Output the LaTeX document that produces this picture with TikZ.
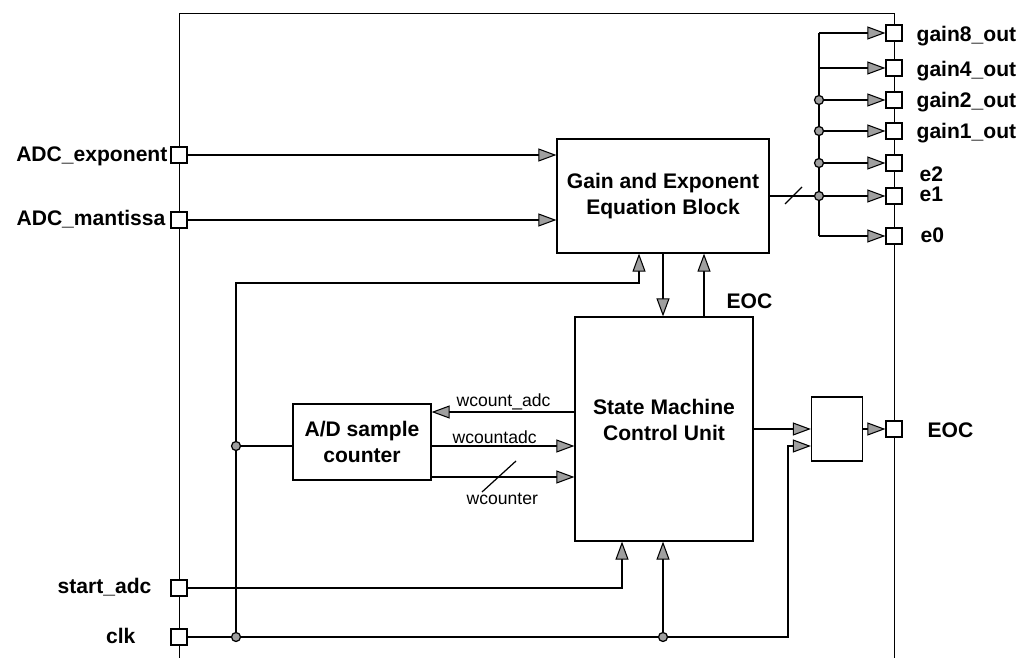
\documentclass[tikz,border=0pt]{standalone}
\usepackage{fontspec}
\setmainfont{Liberation Sans}
\usetikzlibrary{arrows.meta,backgrounds}
\tikzset{
  port/.style={draw, fill=white, minimum width=0.32cm, minimum height=0.32cm, inner sep=0pt},
  block/.style={draw, fill=white, inner sep=0pt, align=center, font=\fontsize{12}{15}\selectfont\bfseries},
  blocktext/.style={align=center, inner sep=0pt, font=\fontsize{12}{15}\selectfont\bfseries},
  lbl/.style={font=\fontsize{12}{14}\selectfont\bfseries, inner sep=0pt},
  sig/.style={font=\fontsize{10}{12}\selectfont, inner sep=0pt},
  arr/.style={-{Triangle[length=3.6mm,width=2.6mm,line width=0.6pt,fill=gray!75]}},
  bus/.style={line width=1.4pt},
  dot/.style={circle, draw, fill=gray!75, inner sep=0pt, minimum size=0.18cm},
}
\begin{document}
\begin{tikzpicture}[x=0.02cm, y=-0.02cm, line width=0.7pt]
\useasboundingbox (0,0) rectangle (1023,658);
% blocks
\node[block, minimum width=4.24cm, minimum height=2.28cm] (ge) at (663,196) {Gain and Exponent\\Equation Block};
\node[block, minimum width=3.56cm, minimum height=4.48cm] (smc) at (664,429) {};
\node[blocktext] (smct) at (664,420) {State Machine\\Control Unit};
\node[block, minimum width=2.76cm, minimum height=1.52cm] (cnt) at (362,442) {A/D sample\\counter};
\node[block, minimum width=1.02cm, minimum height=1.28cm] (sbox) at (837,429) {};
% input ports
\node[port] (pe) at (179,155) {};
\node[port] (pm) at (179,220) {};
\node[port] (ps) at (179,588) {};
\node[port] (pc) at (179,637) {};
\node[lbl, anchor=base east] (le) at (168,162) {ADC\_exponent};
\node[lbl, anchor=base east] (lm) at (166,226) {ADC\_mantissa};
\node[lbl, anchor=base east] (ls) at (152,593) {start\_adc};
\node[lbl, anchor=base east] (lc) at (136,643) {clk};
% output ports
\node[port] (o8) at (894,33) {};
\node[port] (o4) at (894,68) {};
\node[port] (o2) at (894,100) {};
\node[port] (o1) at (894,131) {};
\node[port] (e2) at (894,163) {};
\node[port] (e1) at (894,196) {};
\node[port] (e0) at (894,236) {};
\node[port] (eoc) at (894,429) {};
\node[lbl, anchor=base west] at (916,42) {gain8\_out};
\node[lbl, anchor=base west] at (916,77) {gain4\_out};
\node[lbl, anchor=base west] at (916,108) {gain2\_out};
\node[lbl, anchor=base west] at (916,139) {gain1\_out};
\node[lbl, anchor=base west] at (919,182) {e2};
\node[lbl, anchor=base west] at (919,202) {e1};
\node[lbl, anchor=base west] at (920,243) {e0};
\node[lbl, anchor=base west] at (927,437) {EOC};
% port bus
\begin{scope}[on background layer]
\draw (179,658) -- (179,13) -- (894,13) -- (894,658);
\end{scope}
% ADC inputs
\draw[arr] (pe) -- (pe -| ge.west);
\draw[arr] (pm) -- (pm -| ge.west);
% gain outputs
\coordinate (fan) at (819,196);
\draw (ge.east) -- (fan);
\draw (785,204) -- (802,187);
\draw (fan |- o8) -- (fan |- e0);
\foreach \o in {o8,o4,o2,o1,e2,e1,e0}
  \draw[arr] (fan |- \o) -- (\o.west);
\foreach \o in {o2,o1,e2,e1}
  \node[dot] at (fan |- \o) {};
% gain <-> state machine
\draw[arr] (ge.south) -- (ge.south |- smc.north);
\coordinate (eup) at (704,317);
\draw[arr] (eup) -- (eup |- ge.south);
\node[lbl, anchor=base west] at (726,308) {EOC};
% counter <-> state machine
\coordinate (w1) at (575,412);
\coordinate (w2) at (431,446);
\coordinate (w3) at (431,477);
\draw[arr] (w1) -- (w1 -| cnt.east);
\draw[arr] (w2) -- (w2 -| smc.west);
\draw[arr, bus] (w3) -- (w3 -| smc.west);
\draw (482,492) -- (516,461);
\node[sig, anchor=base west] at (456,406) {wcount\_adc};
\node[sig, anchor=base west] at (452,443) {wcountadc};
\node[sig, anchor=base west] at (466,504) {wcounter};
% EOC output
\draw[arr] (smc.east) -- (sbox.west);
\draw[arr] (sbox.east) -- (eoc.west);
% start_adc
\coordinate (sa) at (622,588);
\draw[arr] (ps) -- (sa) -- (sa |- smc.south);
% clk
\coordinate (ck1) at (236,637);
\coordinate (ck2) at (663,637);
\coordinate (ck3) at (788,637);
\coordinate (ck4) at (788,446);
\coordinate (ck5) at (236,283);
\coordinate (ck6) at (236,446);
\coordinate (gi) at (639,283);
\draw[arr, bus] (pc) -- (ck3) -- (ck4) -- (ck4 -| sbox.west);
\draw[arr, bus] (ck2) -- (ck2 |- smc.south);
\draw[arr] (ck1) -- (ck5) -- (gi) -- (gi |- ge.south);
\draw (ck6) -- (ck6 -| cnt.west);
\node[dot] at (ck1) {};
\node[dot] at (ck2) {};
\node[dot] at (ck6) {};
\end{tikzpicture}
\end{document}
